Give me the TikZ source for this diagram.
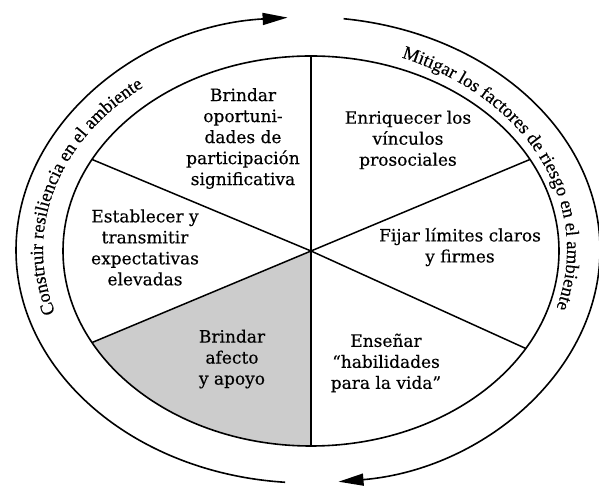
\documentclass[tikz,border=0pt]{standalone}
\usepackage{fontspec}
\setmainfont[FakeBold=0.4]{DejaVu Serif}
\newfontfamily\arcfam[FakeBold=0.4]{Liberation Serif}
\usetikzlibrary{arrows.meta,decorations.text,calc}
\newcommand\arcfont{\arcfam\fontsize{18.6}{18.6}\selectfont}
\begin{document}
\begin{tikzpicture}[x=1pt,y=1pt,
  ring/.style={line width=1.6pt},
  spoke/.style={line width=1.5pt},
  lbl/.style={align=center, font=\fontsize{17}{21}\selectfont, inner sep=0pt},
  arrowtip/.style={-{Triangle[length=25pt,width=12pt]}},
  arctext/.style={decorate, decoration={text along path, text align=center, text={#1}}}]
\useasboundingbox (0,0) rectangle (599,486);
\coordinate (C) at (311,235);
\coordinate (O) at (308,236);
\coordinate (T) at (305,236);
% spoke ends
\coordinate (sT) at ($(C)+(90:248pt and 195pt)$);
\coordinate (sB) at ($(C)+(270:248pt and 195pt)$);
\coordinate (s1) at ($(C)+(152:248pt and 195pt)$);
\coordinate (s2) at ($(C)+(28:248pt and 195pt)$);
\coordinate (s3) at ($(C)+(208:248pt and 195pt)$);
\coordinate (s4) at ($(C)+(-30:248pt and 195pt)$);
% shaded sector
\fill[black!20] (C) -- (s3) arc[start angle=208,end angle=270,x radius=248pt,y radius=195pt] -- cycle;
% inner ellipse
\draw[ring] (C) ellipse[x radius=248pt,y radius=195pt];
% spokes
\foreach \s in {sT,sB,s1,s2,s3,s4} \draw[spoke] (C) -- (\s);
% outer arrows
\draw[ring,arrowtip] ($(O)+(265.5:292pt and 233pt)$) arc[start angle=265.5,end angle=94,x radius=292pt,y radius=233pt];
\draw[ring,arrowtip] ($(O)+(83:292pt and 233pt)$) arc[start angle=83,end angle=-84,x radius=292pt,y radius=233pt];
% arc texts
\path[arctext={|\arcfont|Construir resiliencia en el ambiente}] ($(T)+(200:262pt and 207pt)$) arc[start angle=200,end angle=126,x radius=262pt,y radius=207pt];
\path[arctext={|\arcfont|Mitigar los factores de riesgo en el ambiente}] ($(T)+(71:262pt and 207pt)$) arc[start angle=71,end angle=-19.5,x radius=262pt,y radius=207pt];
% labels
\node[lbl] (t1) at (243,347.5) {Brindar\\oportuni-\\dades de\\participación\\significativa};
\node[lbl] (t2) at (408,346) {Enriquecer los\\vínculos\\prosociales};
\node[lbl] (t3) at (145,238.5) {Establecer y\\transmitir\\expectativas\\elevadas};
\node[lbl] (t4) at (460,239) {Fijar límites claros\\y firmes};
\node[lbl] (t5) at (232,127) {Brindar\\afecto\\y apoyo};
\node[lbl] (t6) at (386,123) {Enseñar\\“habilidades\\para la vida”};
\end{tikzpicture}
\end{document}
